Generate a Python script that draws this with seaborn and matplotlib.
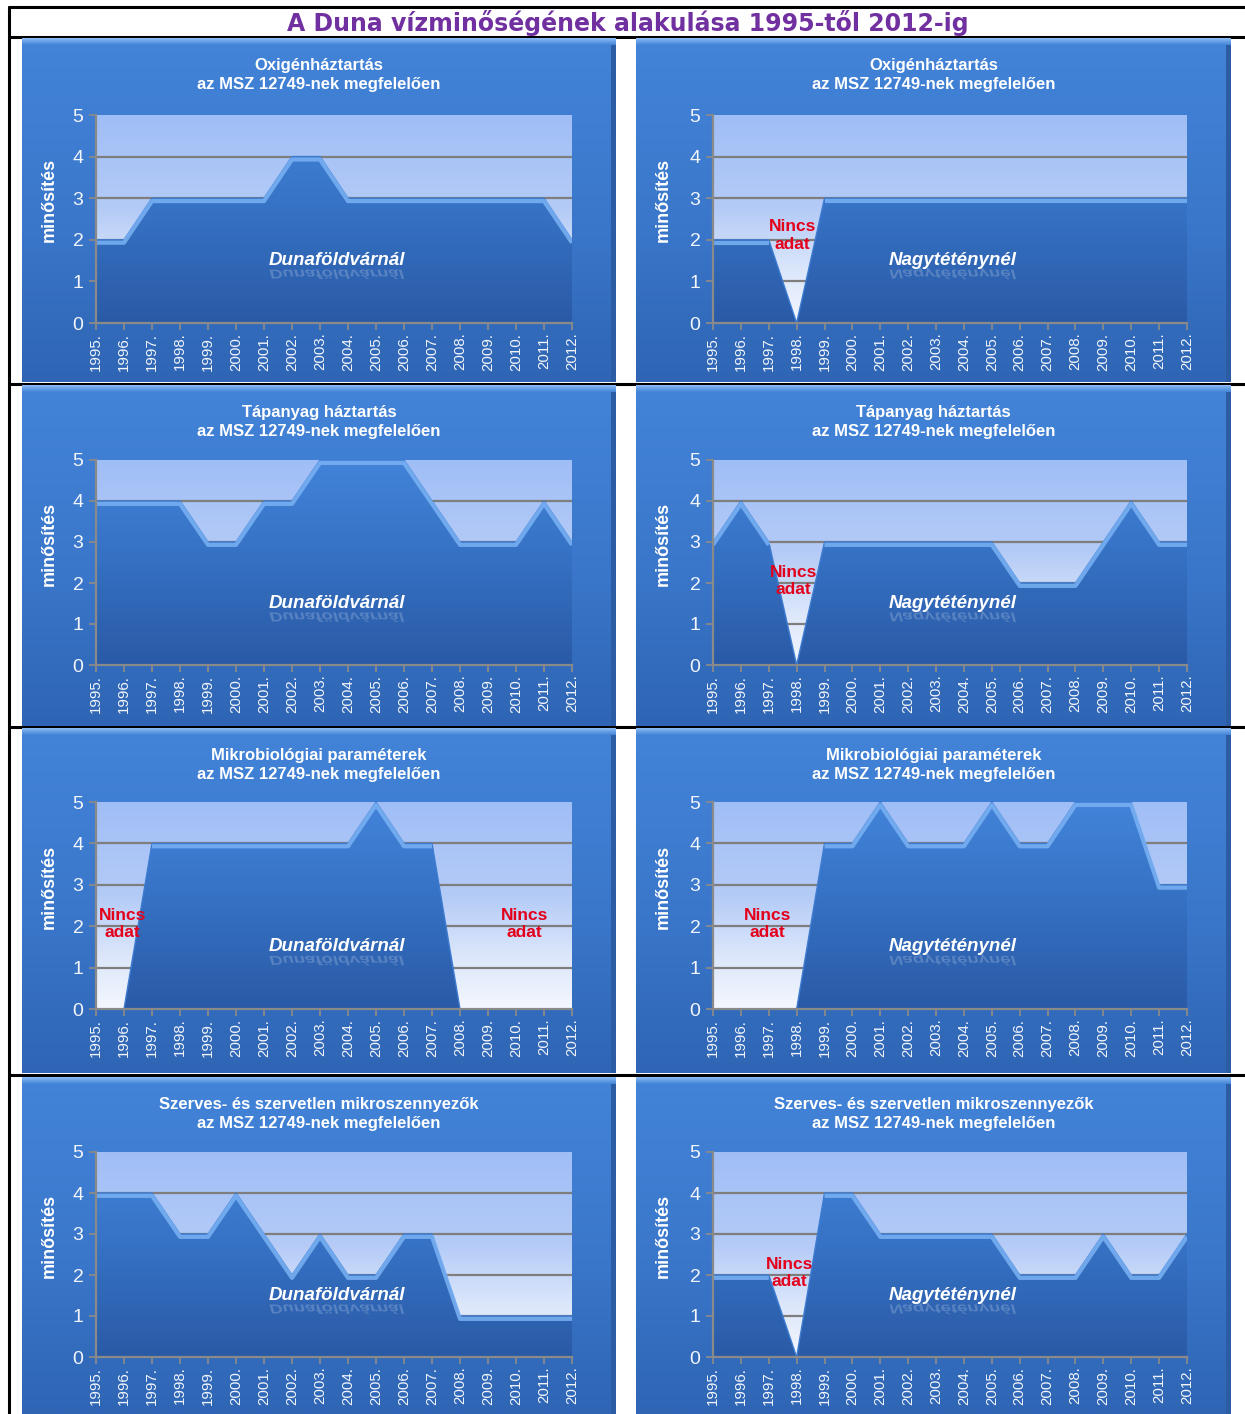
import numpy as np
import matplotlib
matplotlib.use("Agg")
import matplotlib.pyplot as plt
import seaborn as sns
from matplotlib.colors import LinearSegmentedColormap
from matplotlib.lines import Line2D
from matplotlib.patches import PathPatch, Rectangle
from matplotlib.textpath import TextPath
from matplotlib.font_manager import FontProperties
from matplotlib.transforms import Affine2D, IdentityTransform

# ---------------- data ----------------
years = list(range(1995, 2013))
year_labels = [f"{y}." for y in years]

oxigen_dunafoldvar = [2, 2, 3, 3, 3, 3, 3, 4, 4, 3, 3, 3, 3, 3, 3, 3, 3, 2]
oxigen_nagyteteny = [2, 2, 2, 0, 3, 3, 3, 3, 3, 3, 3, 3, 3, 3, 3, 3, 3, 3]
tapanyag_dunafoldvar = [4, 4, 4, 4, 3, 3, 4, 4, 5, 5, 5, 5, 4, 3, 3, 3, 4, 3]
tapanyag_nagyteteny = [3, 4, 3, 0, 3, 3, 3, 3, 3, 3, 3, 2, 2, 2, 3, 4, 3, 3]
mikro_dunafoldvar = [0, 0, 4, 4, 4, 4, 4, 4, 4, 4, 5, 4, 4, 0, 0, 0, 0, 0]
mikro_nagyteteny = [0, 0, 0, 0, 4, 4, 5, 4, 4, 4, 5, 4, 4, 5, 5, 5, 3, 3]
szerves_dunafoldvar = [4, 4, 4, 3, 3, 4, 3, 2, 3, 2, 2, 3, 3, 1, 1, 1, 1, 1]
szerves_nagyteteny = [2, 2, 2, 0, 4, 4, 3, 3, 3, 3, 3, 2, 2, 2, 3, 2, 2, 3]

main_title = "A Duna vízminőségének alakulása 1995-től 2012-ig"
row_titles = [
    "Oxigénháztartás\naz MSZ 12749-nek megfelelően",
    "Tápanyag háztartás\naz MSZ 12749-nek megfelelően",
    "Mikrobiológiai paraméterek\naz MSZ 12749-nek megfelelően",
    "Szerves- és szervetlen mikroszennyezők\naz MSZ 12749-nek megfelelően",
]
station_names = ["Dunaföldvárnál", "Nagytétényné l".replace(" ", "")]
y_label = "minősítés"
no_data_label = "Nincs\nadat"

series = [
    [oxigen_dunafoldvar, oxigen_nagyteteny],
    [tapanyag_dunafoldvar, tapanyag_nagyteteny],
    [mikro_dunafoldvar, mikro_nagyteteny],
    [szerves_dunafoldvar, szerves_nagyteteny],
]
# "Nincs adat" notes: (row, col, year position, value position)
no_data_notes = [
    (0, 1, 1997.85, 2.1),
    (1, 1, 1997.9, 2.05),
    (2, 0, 1995.95, 2.05),
    (2, 0, 2010.3, 2.05),
    (2, 1, 1996.95, 2.05),
    (3, 1, 1997.75, 2.05),
]

# ---------------- style ----------------
sns.set_theme(style="white")
plt.rcParams["font.family"] = ["Liberation Sans", "DejaVu Sans"]

W, H = 1245, 1414
fig = plt.figure(figsize=(W / 100, H / 100), dpi=100)
fig.patch.set_facecolor("white")


def frect(x0, y0, x1, y1):
    """pixel box (top-left origin) -> figure fraction rect"""
    return [x0 / W, 1 - y1 / H, (x1 - x0) / W, (y1 - y0) / H]


# table lines
line_kw = dict(color="black", lw=2.2, zorder=-5)
fig.add_artist(Line2D([9 / W, 1], [1 - 7 / H, 1 - 7 / H], transform=fig.transFigure, **line_kw))
fig.add_artist(Line2D([9 / W, 1], [1 - 36.5 / H, 1 - 36.5 / H], transform=fig.transFigure, **line_kw))
fig.add_artist(Line2D([9 / W, 9 / W], [0, 1 - 7 / H], transform=fig.transFigure, **line_kw))
for yy in [383.5, 727, 1075]:
    fig.add_artist(Line2D([9 / W, 1], [1 - yy / H, 1 - yy / H], transform=fig.transFigure, **line_kw))

fig.text(628 / W, 1 - 22.5 / H, main_title, ha="center", va="center",
         fontsize=17, fontweight="bold", color="#7030A0", family="DejaVu Sans")

panel_cmap = LinearSegmentedColormap.from_list("panel", ["#2F65B4", "#3B78CC", "#4384D8"])
plotbg_cmap = LinearSegmentedColormap.from_list(
    "plotbg", [(0.0, "#F4F7FE"), (0.25, "#DCE7FB"), (0.55, "#B4CBF7"), (1.0, "#A0BEF6")])
area_cmap = LinearSegmentedColormap.from_list("area", ["#2A5AA6", "#3570C2", "#4284DA"])

row_tops = [38, 385, 728, 1077]
row_bottoms = [382, 726, 1073, 1414]
y5_px = [115, 460, 802, 1152]
y0_px = [323, 665, 1009, 1357]
col_x = [(22, 616), (636, 1231)]
plot_x = [(96, 572), (713, 1187)]

grad = np.linspace(0, 1, 256).reshape(-1, 1)

for r in range(4):
    for c in range(2):
        px0, px1 = col_x[c]
        py0, py1 = row_tops[r], row_bottoms[r]
        # ---- panel background ----
        bg = fig.add_axes(frect(px0, py0, px1, py1), zorder=0)
        bg.imshow(grad[::-1], extent=[0, 1, 0, 1], aspect="auto", cmap=panel_cmap, origin="upper")
        hpx = py1 - py0
        rim = 7 / hpx
        bg.imshow(np.linspace(0, 1, 32).reshape(-1, 1), extent=[0, 1, 1 - rim, 1], aspect="auto",
                  cmap=LinearSegmentedColormap.from_list("rim", ["#8CBCF4", "#4384D8"]), origin="upper")
        bg.add_patch(Rectangle((1 - 5 / (px1 - px0), 0), 5 / (px1 - px0), 1 - rim,
                               color="#2B5CA4", lw=0))
        bg.set_xlim(0, 1)
        bg.set_ylim(0, 1)
        bg.axis("off")

        # panel title
        bg.text(0.5, 1 - 37 / hpx, row_titles[r], ha="center", va="center", fontsize=12,
                fontweight="bold", color="white", linespacing=1.38, transform=bg.transAxes)

        # ---- plot area ----
        ax0, ax1 = plot_x[c]
        ax = fig.add_axes(frect(ax0, y5_px[r], ax1, y0_px[r]), zorder=1)
        vals = np.array(series[r][c], dtype=float)
        ax.set_xlim(1995, 2012)
        ax.set_ylim(0, 5)
        ax.set_facecolor("none")
        ax.imshow(grad, extent=[1995, 2012, 0, 5], aspect="auto", cmap=plotbg_cmap,
                  origin="lower", zorder=0)
        for g in [1, 2, 3, 4]:
            ax.axhline(g, color="#7E7E7E", lw=1.6, zorder=1)
        poly = ax.fill_between(years, vals, 0, color="none", lw=0, zorder=2)
        im = ax.imshow(grad, extent=[1995, 2012, 0, 5], aspect="auto", cmap=area_cmap,
                       origin="lower", zorder=2)
        im.set_clip_path(poly.get_paths()[0], transform=ax.transData)
        sns.lineplot(x=years, y=vals, ax=ax, color="#3E7CD2", lw=1.0, zorder=3)
        bevel = np.where(vals > 0, vals, np.nan)
        ax.plot(years, bevel - 0.07, color="#7BB2F4", lw=3.0, zorder=3,
                solid_capstyle="butt", alpha=0.85)
        ax.set_ylim(0, 5)
        ax.set_xlim(1995, 2012)

        ax.set_xticks(years)
        ax.set_xticklabels(year_labels, rotation=90, fontsize=10.8, color="#F2F5FB")
        ax.set_yticks(range(6))
        ax.set_yticklabels([str(v) for v in range(6)], fontsize=14, color="#F2F5FB")
        ax.tick_params(axis="both", direction="out", length=5, width=1.3, color="#8A8A8A",
                       bottom=True, left=True, pad=2)
        ax.tick_params(axis="y", pad=4)
        for s in ["top", "right"]:
            ax.spines[s].set_visible(False)
        for s in ["left", "bottom"]:
            ax.spines[s].set_color("#8A8A8A")
            ax.spines[s].set_linewidth(1.6)
            ax.spines[s].set_zorder(5)
        ax.set_xlabel("")
        ax.set_ylabel(y_label, fontsize=13, fontweight="bold", color="white")
        ax.yaxis.set_label_coords(-(ax0 - (px0 + 36)) / (ax1 - ax0), 0.59)
        ax.grid(False)

        # station label with faint reflection
        name = station_names[c]
        ax.text(2003.6, 1.5, name, ha="center", va="center", fontsize=13.5,
                fontweight="bold", fontstyle="italic", color="white", zorder=6)
        fp = FontProperties(family="Liberation Sans", weight="bold", style="italic")
        tp = TextPath((0, 0), name, size=18.5, prop=fp)
        ext = tp.get_extents()
        cx_disp, cy_disp = ax.transData.transform((2003.6, 1.5))
        tr = Affine2D().translate(-(ext.x0 + ext.x1) / 2, 0).scale(1, -0.7).translate(cx_disp, cy_disp - 9)
        patch = PathPatch(tr.transform_path(tp), transform=IdentityTransform(),
                          facecolor="white", edgecolor="none", alpha=0.2, zorder=6)
        ax.add_artist(patch)

for (r, c, xv, yv) in no_data_notes:
    ax = fig.axes[(r * 2 + c) * 2 + 1]
    ax.text(xv, yv, no_data_label, ha="center", va="center", fontsize=12.5,
            color="#E3001B", fontweight="bold", linespacing=1.22, zorder=7)

fig.savefig("out.png", dpi=100, facecolor="white")
